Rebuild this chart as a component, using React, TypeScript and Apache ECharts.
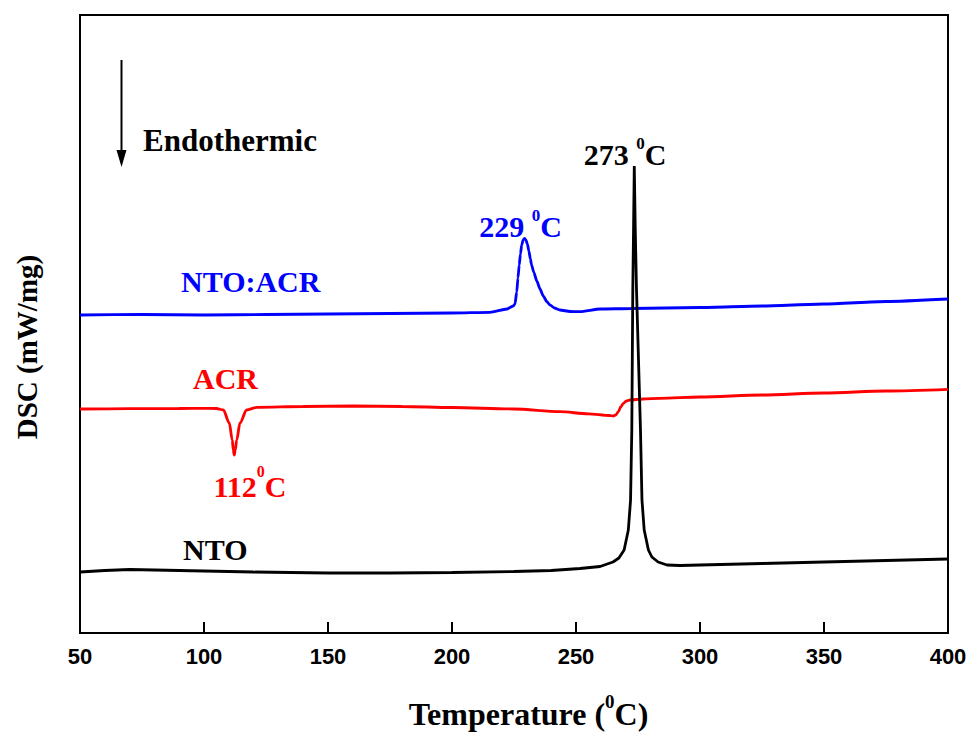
import React, { useEffect, useRef } from "react";
import * as echarts from "echarts";

// ---- Data (temperature in °C, DSC in arbitrary offset units) ----
const ntoTemp = [50, 60, 70, 80, 100, 120, 150, 175, 200, 225, 240, 251.6, 259.7, 264.9, 267.3, 269.4, 271.1, 272.0, 272.5, 272.7, 272.9, 273.2, 273.5, 273.9, 274.4, 275.2, 276.0, 276.6, 277.5, 279.2, 280.6, 283.1, 286.7, 292, 300, 325, 350, 375, 400];
const ntoDsc = [0.61, 0.625, 0.635, 0.63, 0.62, 0.61, 0.6, 0.6, 0.605, 0.615, 0.625, 0.645, 0.665, 0.71, 0.75, 0.83, 1.03, 1.33, 2.03, 2.73, 3.43, 4.03, 4.67, 4.03, 3.43, 2.73, 2.03, 1.33, 1.03, 0.83, 0.76, 0.71, 0.68, 0.675, 0.68, 0.695, 0.71, 0.725, 0.74];

const acrTemp = [50, 70, 90, 100, 105, 107.8, 110.2, 111.4, 111.8, 112.2, 112.6, 113.2, 114.5, 117.2, 121.3, 140, 160, 180, 200, 225, 243.5, 255, 263.5, 265, 266, 267.1, 268, 269.1, 270.3, 271.8, 277.1, 283.7, 300, 325, 350, 375, 400];
const acrDsc = [2.24, 2.243, 2.245, 2.247, 2.245, 2.23, 2.1, 1.93, 1.83, 1.78, 1.83, 1.93, 2.1, 2.23, 2.257, 2.265, 2.27, 2.265, 2.255, 2.24, 2.213, 2.192, 2.175, 2.17, 2.18, 2.213, 2.26, 2.297, 2.32, 2.33, 2.34, 2.347, 2.36, 2.38, 2.4, 2.42, 2.437];

const mixTemp = [50, 75, 100, 125, 150, 175, 200, 215.3, 222.1, 224.7, 225.4, 226.1, 226.6, 227.1, 227.6, 228.1, 228.7, 229.2, 229.8, 230.4, 231.0, 231.6, 232.1, 233.0, 234.2, 235.5, 236.8, 238.2, 239.5, 241.3, 243.5, 247.6, 251.6, 259.7, 272.2, 300, 325, 350, 375, 400];
const mixDsc = [3.18, 3.185, 3.18, 3.185, 3.19, 3.195, 3.2, 3.207, 3.24, 3.27, 3.29, 3.41, 3.55, 3.68, 3.79, 3.88, 3.93, 3.947, 3.93, 3.89, 3.82, 3.74, 3.68, 3.605, 3.52, 3.44, 3.37, 3.315, 3.28, 3.25, 3.23, 3.215, 3.213, 3.24, 3.245, 3.255, 3.27, 3.29, 3.315, 3.34];

const xMin = 50;
const xMax = 400;
const xStep = 50;

const SERIF = "'Liberation Serif', 'Times New Roman', serif";
const SANS = "'Liberation Sans', Arial, sans-serif";

function zip(t: number[], v: number[]) {
  return t.map((x, i) => [x, v[i]]);
}

function supText(
  a: string,
  s: string,
  b: string,
  x: number,
  mainCenterY: number,
  color: string,
  size: number,
  supSize: number,
  rise: number
) {
  const pad = rise - (size - supSize) / 2;
  return {
    type: "text",
    x,
    y: mainCenterY - pad / 2,
    style: {
      text: `{a|${a}}{s|${s}}{a|${b}}`,
      align: "center",
      verticalAlign: "middle",
      textAlign: "center",
      textVerticalAlign: "middle",
      rich: {
        a: {
          fontSize: size,
          fontFamily: SERIF,
          fontWeight: "bold",
          fill: color,
          lineHeight: size,
          verticalAlign: "top",
          padding: [pad, 0, 0, 0],
        },
        s: {
          fontSize: supSize,
          fontFamily: SERIF,
          fontWeight: "bold",
          fill: color,
          lineHeight: supSize,
          verticalAlign: "top",
        },
      },
    },
  };
}

function plainText(text: string, x: number, y: number, color: string, size: number, rotation = 0, align = "left") {
  return {
    type: "text",
    x,
    y,
    rotation,
    style: {
      text,
      fill: color,
      fontSize: size,
      fontFamily: SERIF,
      fontWeight: "bold",
      align,
      textAlign: align,
      verticalAlign: "middle",
      textVerticalAlign: "middle",
    },
  };
}

export default function App() {
  const ref = useRef<HTMLDivElement>(null);

  useEffect(() => {
    document.body.style.margin = "0";
    if (!ref.current) return;
    const chart = echarts.init(ref.current, undefined, { renderer: "svg" });
    const lineStyle = (color: string) => ({ color, width: 2.8 });
    chart.setOption({
      animation: false,
      backgroundColor: "#fff",
      grid: {
        left: 80,
        right: 22,
        top: 15,
        bottom: 100,
        show: true,
        borderColor: "#000",
        borderWidth: 2,
        containLabel: false,
      },
      xAxis: {
        type: "value",
        min: xMin,
        max: xMax,
        interval: xStep,
        axisLine: { show: true, lineStyle: { color: "#000", width: 2 } },
        axisTick: { show: true, inside: true, length: 11, lineStyle: { color: "#000", width: 2 } },
        axisLabel: {
          color: "#000",
          fontSize: 22,
          fontWeight: "bold",
          fontFamily: SANS,
          margin: 12,
        },
        splitLine: { show: false },
      },
      yAxis: {
        type: "value",
        min: 0,
        max: 6.18,
        axisLine: { show: false },
        axisTick: { show: false },
        axisLabel: { show: false },
        splitLine: { show: false },
      },
      series: [
        {
          name: "NTO:ACR",
          type: "line",
          data: zip(mixTemp, mixDsc),
          showSymbol: false,
          smooth: 0.2,
          smoothMonotone: "x",
          lineStyle: lineStyle("#0000ff"),
          itemStyle: { color: "#0000ff" },
          z: 2,
        },
        {
          name: "ACR",
          type: "line",
          data: zip(acrTemp, acrDsc),
          showSymbol: false,
          smooth: 0.3,
          smoothMonotone: "x",
          lineStyle: lineStyle("#ff0000"),
          itemStyle: { color: "#ff0000" },
          z: 3,
        },
        {
          name: "NTO",
          type: "line",
          data: zip(ntoTemp, ntoDsc),
          showSymbol: false,
          lineStyle: lineStyle("#000000"),
          itemStyle: { color: "#000000" },
          z: 4,
        },
      ],
      graphic: [
        {
          type: "line",
          shape: { x1: 121.5, y1: 60, x2: 121.5, y2: 152 },
          style: { stroke: "#000", lineWidth: 2 },
        },
        {
          type: "polygon",
          shape: { points: [[116.5, 150], [126.5, 150], [121.5, 167]] },
          style: { fill: "#000" },
        },
        plainText("Endothermic", 143, 140.5, "#000", 31),
        plainText("NTO:ACR", 181, 281, "#0000ff", 30),
        plainText("ACR", 193, 378.5, "#ff0000", 30),
        plainText("NTO", 183, 549, "#000", 30),
        supText("273 ", "0", "C", 625, 152, "#000", 30, 17, 11),
        supText("229 ", "0", "C", 520.5, 224, "#0000ff", 30, 17, 11.5),
        supText("112", "0", "C", 250, 482.5, "#ff0000", 30, 16, 15.5),
        supText("Temperature (", "0", "C)", 528.5, 711, "#000", 32, 19, 13),
        plainText("DSC (mW/mg)", 27, 347, "#000", 29, Math.PI / 2, "center"),
      ],
    });
    return () => chart.dispose();
  }, []);

  return (
    <div
      ref={ref}
      style={{ width: 970, height: 733, position: "absolute", left: 0, top: 0 }}
    />
  );
}
